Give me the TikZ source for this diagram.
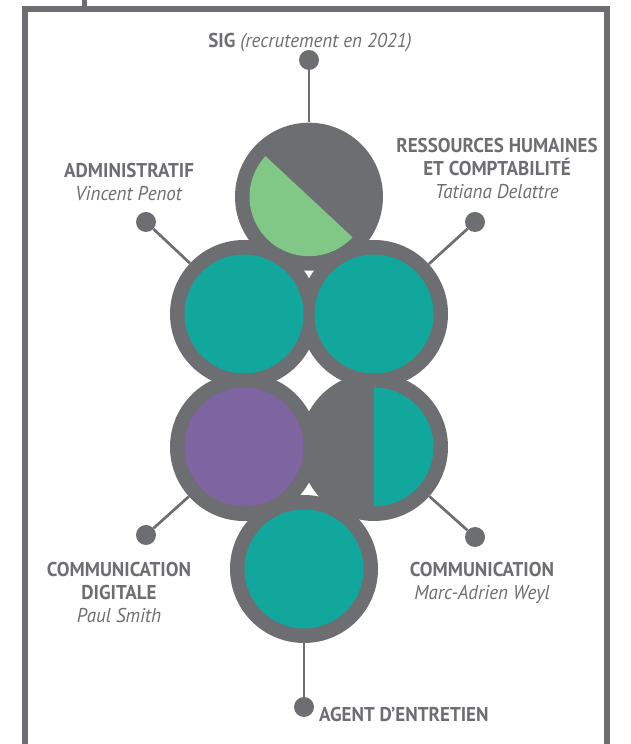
\documentclass[tikz,border=0pt]{standalone}
\usepackage{fontspec}
\setmainfont{PT Sans}[FakeStretch=0.95]
\usepackage{xcolor}
\usetikzlibrary{positioning}
\definecolor{greyc}{HTML}{6D6E71}
\definecolor{tealc}{HTML}{12A79D}
\definecolor{leafc}{HTML}{81C785}
\definecolor{violc}{HTML}{7E64A0}

\begin{document}
\begin{tikzpicture}[x=1pt, y=1pt,
    ring/.style={circle, fill=greyc, minimum size=148pt, inner sep=0pt},
    pindot/.style={circle, fill=greyc, minimum size=20pt, inner sep=0pt},
    link/.style={draw=greyc, line width=2.7pt},
    lbl/.style={text=greyc, align=center, inner sep=0pt, font={\fontsize{20}{23}\selectfont}}
]
    \useasboundingbox (0,0) rectangle (630,744);

    % Frame
    \draw [greyc, line width=5.5pt] (25,-10) |- (607,735) -- (607,-10);
    \draw [greyc, line width=5.3pt] (84.5,735) -- (84.5,750);

    % Circles
    \foreach \name/\x/\y in {top/309/547.3, ml/244/430, mr/374/430, ll/244/297, lr/374/297, bot/304/175} {
        \node [ring] (\name) at (\x,\y) {};
    }

    % Inner fills
    \foreach \name/\col in {ml/tealc, mr/tealc, ll/violc, bot/tealc} {
        \fill [\col] (\name.center) circle (59.5pt);
    }
    \fill [leafc] ([shift={(137:59.5pt)}]top.center) arc [start angle=137, end angle=317, radius=59.5pt] -- cycle;
    \fill [tealc] ([shift={(-90:59.5pt)}]lr.center) arc [start angle=-90, end angle=90, radius=59.5pt] -- cycle;

    % Pins
    \foreach \name/\x/\y/\target in {sig/309/684/top, adm/146/522/ml, rh/475/522/mr, cdig/146/209/ll, com/475/207/lr, agent/304/37/bot} {
        \node [pindot] (\name) at (\x,\y) {};
        \draw [link] (\name) -- (\target);
    }

    % Labels
    \node [lbl, anchor=base] (siglbl) at (310,696) {\textbf{SIG} \textit{(recrutement en 2021)}};
    \node [lbl, anchor=north] (admlbl) at (129,581) {\textbf{ADMINISTRATIF}\\\textit{Vincent Penot}};
    \node [lbl, anchor=north] (rhlbl) at (497,606) {\textbf{RESSOURCES HUMAINES}\\\textbf{ET COMPTABILITÉ}\\\textit{Tatiana Delattre}};
    \node [lbl, anchor=north] (cdiglbl) at (119,182.3) {\textbf{COMMUNICATION}\\\textbf{DIGITALE}\\\textit{Paul Smith}};
    \node [lbl, anchor=north] (comlbl) at (482,182.3) {\textbf{COMMUNICATION}\\\textit{Marc-Adrien Weyl}};
    \node [lbl, anchor=base west] (agentlbl) at (319,22) {\textbf{AGENT D’ENTRETIEN}};
\end{tikzpicture}
\end{document}
